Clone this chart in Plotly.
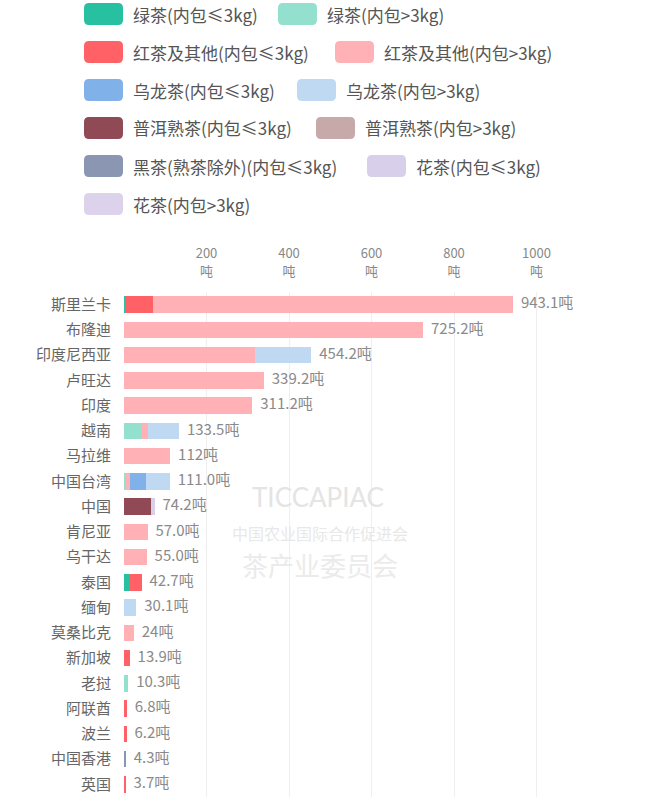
import plotly.graph_objects as go

# ---------------- data ----------------
countries = ["斯里兰卡", "布隆迪", "印度尼西亚", "卢旺达", "印度", "越南", "马拉维", "中国台湾",
             "中国", "肯尼亚", "乌干达", "泰国", "缅甸", "莫桑比克", "新加坡", "老挝",
             "阿联酋", "波兰", "中国香港", "英国"]

series_names = ["绿茶(内包≤3kg)", "绿茶(内包>3kg)", "红茶及其他(内包≤3kg)", "红茶及其他(内包>3kg)",
                "乌龙茶(内包≤3kg)", "乌龙茶(内包>3kg)", "普洱熟茶(内包≤3kg)", "普洱熟茶(内包>3kg)",
                "黑茶(熟茶除外)(内包≤3kg)", "花茶(内包≤3kg)", "花茶(内包>3kg)"]

green_small = [3, 0, 0, 0, 0, 0, 0, 0, 0, 0, 0, 15, 0, 0, 0, 0, 0, 0, 0, 0]
green_large = [0, 0, 0, 0, 0, 42, 0, 4, 0, 0, 0, 0, 0, 0, 0, 10.3, 0, 0, 0, 0]
black_small = [67, 0, 0, 0, 0, 0, 0, 0, 0, 0, 0, 27.7, 0, 0, 13.9, 0, 6.8, 6.2, 0, 3.7]
black_large = [873.1, 725.2, 318, 339.2, 311.2, 16, 112, 11, 0, 57.0, 55.0, 0, 0, 24, 0, 0, 0, 0, 0, 0]
oolong_small = [0, 0, 0, 0, 0, 0, 0, 39, 0, 0, 0, 0, 0, 0, 0, 0, 0, 0, 0, 0]
oolong_large = [0, 0, 136.2, 0, 0, 75.5, 0, 57, 0, 0, 0, 0, 30.1, 0, 0, 0, 0, 0, 0, 0]
puer_small = [0, 0, 0, 0, 0, 0, 0, 0, 66, 0, 0, 0, 0, 0, 0, 0, 0, 0, 0, 0]
puer_large = [0] * 20
dark_small = [0, 0, 0, 0, 0, 0, 0, 0, 0, 0, 0, 0, 0, 0, 0, 0, 0, 0, 4.3, 0]
flower_small = [0, 0, 0, 0, 0, 0, 0, 0, 8.2, 0, 0, 0, 0, 0, 0, 0, 0, 0, 0, 0]
flower_large = [0] * 20

totals = [943.1, 725.2, 454.2, 339.2, 311.2, 133.5, 112, 111.0, 74.2, 57.0, 55.0, 42.7,
          30.1, 24, 13.9, 10.3, 6.8, 6.2, 4.3, 3.7]
total_labels = ["943.1吨", "725.2吨", "454.2吨", "339.2吨", "311.2吨", "133.5吨", "112吨", "111.0吨",
                "74.2吨", "57.0吨", "55.0吨", "42.7吨", "30.1吨", "24吨", "13.9吨", "10.3吨",
                "6.8吨", "6.2吨", "4.3吨", "3.7吨"]

tick_vals = [200, 400, 600, 800, 1000]
tick_nums = ["200", "400", "600", "800", "1000"]
tick_unit = ["吨"] * 5

colors = ["#27c1a1", "#93e0cf", "#ff6166", "#ffb1b6", "#80b1e8", "#c0d9f2",
          "#8f4a55", "#c8a9a9", "#8a96b2", "#d8d0ea", "#ddd2ec"]

series_values = [green_small, green_large, black_small, black_large, oolong_small, oolong_large,
                 puer_small, puer_large, dark_small, flower_small, flower_large]

# ---------------- layout geometry ----------------
W, H = 653, 800
ML, MR, MT, MB = 124, 40, 292, 3
PW, PH = W - ML - MR, H - MT - MB
FONT = "Noto Sans CJK SC, Noto Sans, sans-serif"


def px2x(sx):
    return (sx - ML) / PW


def px2y(sy):
    return (H - MB - sy) / PH


fig = go.Figure()

for name, vals, col in zip(series_names, series_values, colors):
    fig.add_trace(go.Bar(
        y=countries, x=vals, name=name, orientation="h",
        marker=dict(color=col, line=dict(width=0)),
        showlegend=False,
    ))

fig.add_trace(go.Scatter(
    y=countries, x=totals, text=total_labels, mode="markers+text",
    marker=dict(size=11, color="rgba(0,0,0,0)"),
    textposition="middle right", xaxis="x2",
    textfont=dict(size=15, color="#8a8a8a", family=FONT),
    showlegend=False, hoverinfo="skip", cliponaxis=False,
))

# ---------------- manual legend ----------------
legend_items = [
    (84, 14), (278, 14),
    (84, 52), (335, 52),
    (84, 90), (297, 90),
    (84, 128), (316, 128),
    (84, 166), (367, 166),
    (84, 204),
]
shapes = []
annotations = []
SW, SH, R = 39, 22, 5
for (x0, cy), name, col in zip(legend_items, series_names, colors):
    xa, xb = px2x(x0), px2x(x0 + SW)
    yt, yb = px2y(cy - SH / 2), px2y(cy + SH / 2)
    rx, ry = R / PW, R / PH
    path = (f"M{xa + rx},{yt} L{xb - rx},{yt} Q{xb},{yt} {xb},{yt - ry} "
            f"L{xb},{yb + ry} Q{xb},{yb} {xb - rx},{yb} L{xa + rx},{yb} "
            f"Q{xa},{yb} {xa},{yb + ry} L{xa},{yt - ry} Q{xa},{yt} {xa + rx},{yt} Z")
    shapes.append(dict(type="path", xref="paper", yref="paper", path=path,
                       fillcolor=col, line=dict(width=0), layer="above"))
    annotations.append(dict(xref="paper", yref="paper", x=px2x(x0 + 47), y=px2y(cy),
                            xanchor="left", yanchor="middle", text=name, showarrow=False,
                            font=dict(size=17, color="#555555", family=FONT)))

# watermark
annotations += [
    dict(xref="paper", yref="paper", x=px2x(318), y=px2y(497), text="TICCAPIAC",
         showarrow=False, font=dict(size=26, color="#e4e4e4", family="Lato, sans-serif")),
    dict(xref="paper", yref="paper", x=px2x(320), y=px2y(533), text="中国农业国际合作促进会",
         showarrow=False, font=dict(size=16, color="#e8e8e8", family=FONT)),
    dict(xref="paper", yref="paper", x=px2x(320), y=px2y(564), text="茶产业委员会",
         showarrow=False, font=dict(size=26, color="#ebebeb", family=FONT)),
]

x_range = [0, PW / 0.4125]

fig.update_layout(
    width=W, height=H,
    margin=dict(l=ML, r=MR, t=MT, b=MB, autoexpand=False),
    barmode="stack", bargap=0.35,
    paper_bgcolor="white", plot_bgcolor="white",
    font=dict(family=FONT),
    showlegend=False,
    shapes=shapes, annotations=annotations,
    xaxis=dict(side="top", range=x_range, tickvals=tick_vals, ticktext=tick_nums,
               showgrid=True, gridcolor="#efefef", gridwidth=1, zeroline=False,
               showline=False, ticks="", ticklabelstandoff=30, automargin=False,
               tickfont=dict(size=13, color="#888888", family=FONT)),
    xaxis2=dict(side="top", overlaying="x", matches="x", range=x_range, tickvals=tick_vals,
                ticktext=tick_unit, showgrid=False, zeroline=False, showline=False,
                ticks="", ticklabelstandoff=12, automargin=False,
                tickfont=dict(size=13, color="#888888", family=FONT)),
    yaxis=dict(type="category", range=[len(countries) - 0.5, -0.5], showgrid=False,
               zeroline=False, showline=False, ticks="", ticklabelstandoff=12, automargin=False,
               tickfont=dict(size=15, color="#666666", family=FONT)),
)

fig.write_html("out.html", config={"displayModeBar": False},
               post_script="document.body.style.margin='0';")
